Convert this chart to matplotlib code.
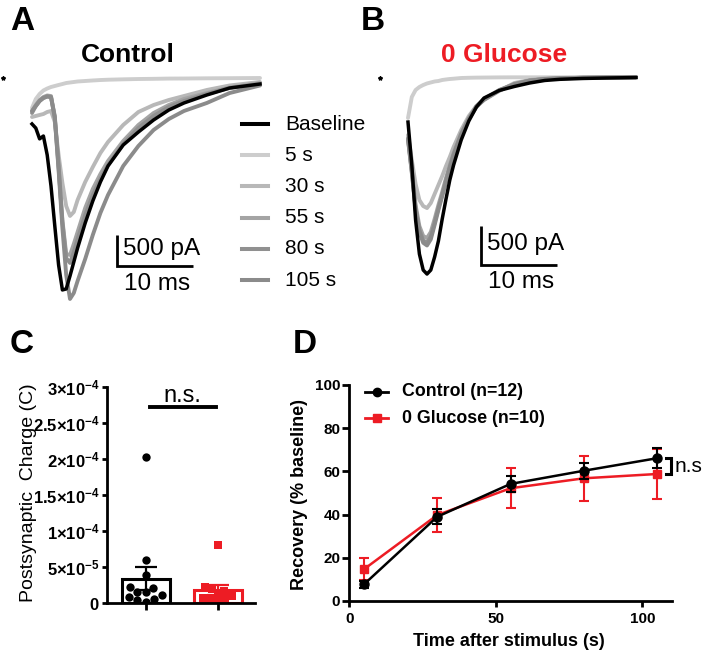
# Recovery of EPSCs after stimulation: control vs 0 glucose
import numpy as np
import matplotlib
matplotlib.use("Agg")
import matplotlib.pyplot as plt
import seaborn as sns
from matplotlib.lines import Line2D
from matplotlib.ticker import FuncFormatter

plt.rcParams['font.family'] = ['Liberation Sans', 'DejaVu Sans']
plt.rcParams['mathtext.fontset'] = 'custom'
plt.rcParams['mathtext.rm'] = 'Liberation Sans'
plt.rcParams['mathtext.bf'] = 'Liberation Sans:bold'

# ---------------- data ----------------
trace_labels = ["Baseline", "5 s", "30 s", "55 s", "80 s", "105 s"]

# sample times of the current traces (ms after trace start)
t_ms = [0, 0.5, 1, 1.5, 2, 2.5, 3, 3.5, 4, 4.5, 5, 5.5, 6, 7, 8, 9, 10,
        12, 14, 16, 18, 20, 23, 26, 30]

# panel A (control), current in pA
ctl_base = [-725, -790, -960, -915, -1214, -1703, -2334, -2949, -3343, -3327, -3122,
            -2902, -2681, -2287, -1940, -1640, -1388, -1057, -852, -662, -505, -394,
            -268, -158, -95]
ctl_5s = [-473, -331, -252, -197, -166, -142, -126, -110, -95, -79, -71, -63, -55,
          -47, -39, -32, -27, -21, -16, -13, -9, -8, -5, -3, 0]
ctl_30s = [-615, -599, -583, -568, -536, -520, -694, -1214, -1656, -2019, -2176,
           -2113, -1924, -1640, -1404, -1183, -1009, -741, -536, -426, -347, -284,
           -189, -118, -63]
ctl_55s = [-520, -426, -347, -300, -276, -284, -631, -1419, -2239, -2776, -2791,
           -2618, -2429, -2050, -1750, -1514, -1309, -994, -741, -552, -426, -331,
           -237, -150, -79]
ctl_80s = [-552, -442, -363, -315, -292, -300, -599, -1372, -2271, -2839, -2917,
           -2744, -2539, -2160, -1845, -1593, -1372, -1041, -789, -599, -457, -363,
           -252, -158, -95]
ctl_105s = [-520, -442, -363, -315, -292, -300, -631, -1451, -2366, -3107, -3485,
            -3391, -3201, -2854, -2476, -2129, -1845, -1388, -1072, -820, -647, -520,
            -394, -237, -118]

# panel B (0 glucose), current in pA
glu_base = [-572, -1130, -1845, -2286, -2494, -2546, -2494, -2325, -2117, -1832, -1572,
            -1325, -1130, -805, -559, -377, -260, -162, -110, -65, -32, -17, -6, 0, 6]
glu_5s = [-520, -247, -156, -117, -91, -71, -58, -45, -39, -26, -19, -13, -9, 0, 3,
          5, 6, 8, 9, 9, 9, 9, 9, 9, 9]
glu_30s = [-740, -1065, -1377, -1585, -1663, -1689, -1624, -1507, -1390, -1273, -1143,
           -1026, -896, -675, -494, -364, -286, -169, -65, -26, -6, 0, 6, 6, 9]
glu_55s = [-779, -1195, -1650, -1923, -2052, -2078, -2000, -1832, -1650, -1481, -1299,
           -1130, -974, -714, -520, -364, -273, -156, -78, -32, -13, -4, 3, 6, 9]
glu_80s = [-790, -1215, -1690, -1975, -2110, -2140, -2060, -1880, -1690, -1515, -1330,
           -1155, -995, -730, -530, -372, -280, -160, -80, -33, -13, -4, 3, 6, 9]
glu_105s = [-800, -1230, -1710, -2000, -2140, -2175, -2095, -1910, -1715, -1535, -1350,
            -1170, -1005, -735, -535, -375, -282, -162, -82, -34, -14, -5, 3, 6, 9]

# panel C: postsynaptic charge (C)
groups = ["Control", "0 Glucose"]
ctl_charge = [2.03e-4, 6.0e-5, 3.9e-5, 2.3e-5, 2.1e-5, 1.6e-5, 1.5e-5, 1.1e-5,
              0.9e-5, 0.6e-5, 0.4e-5, 0.2e-5]
glu_charge = [8.1e-5, 2.2e-5, 2.0e-5, 1.7e-5, 1.3e-5, 1.0e-5, 0.8e-5, 0.6e-5,
              0.4e-5, 0.3e-5]

# panel D: recovery (% baseline)
stim_time = [5, 30, 55, 80, 105]
ctl_rec = [7.7, 39.0, 54.2, 60.3, 66.1]
ctl_sem = [1.5, 3.5, 3.7, 3.8, 4.7]
glu_rec = [14.7, 39.8, 52.2, 56.8, 58.8]
glu_sem = [5.0, 8.0, 9.2, 10.3, 11.5]

# ---------------- figure ----------------
W, H = 702, 652
RED = '#ed1c24'
grays = ['#cdcdcd', '#b8b8b8', '#a4a4a4', '#909090', '#8b8b8b']

fig = plt.figure(figsize=(W / 100, H / 100), dpi=100)


def px_axes(l, t, r, b):
    return fig.add_axes([l / W, 1 - b / H, (r - l) / W, (b - t) / H])


def ftext(x, y, s, **kw):
    return fig.text(x / W, 1 - y / H, s, **kw)


ms_px = 7.6  # px per ms in both trace panels


def trace_panel(l, r, t0_px, pa_px, traces, bar_t, bar_i, stim_px):
    ax = px_axes(l, 60, r, 310)
    ax.axis('off')
    ax.set_xlim((l - t0_px) / ms_px, (r - t0_px) / ms_px)
    ax.set_ylim(-(310 - 78) / pa_px, (78 - 60) / pa_px)
    for tr, col in zip(traces[1:], grays):
        ax.plot(t_ms, tr, color=col, lw=2.8, solid_capstyle='round')
    ax.plot(t_ms, traces[0], color='black', lw=2.5)
    # stimulus mark
    ax.plot([(stim_px - t0_px) / ms_px], [0], marker='*', ms=3, color='black')
    # scale bar 500 pA / 10 ms
    ax.plot([bar_t, bar_t, bar_t + 10], [bar_i + 500, bar_i, bar_i], color='black',
            lw=2, solid_joinstyle='miter', solid_capstyle='butt')
    ax.annotate('500 pA', xy=(bar_t, bar_i + 250), xytext=(4.7, 1),
                textcoords='offset points', ha='left', va='center', fontsize=17.5)
    ax.annotate('10 ms', xy=(bar_t + 5, bar_i), xytext=(1.5, -12.5),
                textcoords='offset points', ha='center', va='center', fontsize=17.5)
    return ax


axA = trace_panel(0, 351, 32, 31.7 / 500,
                  [ctl_base, ctl_5s, ctl_30s, ctl_55s, ctl_80s, ctl_105s],
                  11.14, -2973, 3)
axB = trace_panel(351, 702, 408, 38.5 / 500,
                  [glu_base, glu_5s, glu_30s, glu_55s, glu_80s, glu_105s],
                  9.54, -2423, 380)

ftext(128.3, 61.7, 'Control', ha='center', va='baseline', fontsize=19, weight='bold')
ftext(504.3, 61.7, '0 Glucose', ha='center', va='baseline', fontsize=19,
      weight='bold', color=RED)

# legend of traces
for i, (lab, col) in enumerate(zip(trace_labels, ['black'] + grays)):
    y = 124 + 31.2 * i
    fig.add_artist(Line2D([241.7 / W, 268.3 / W], [1 - y / H] * 2, color=col, lw=2.9,
                          transform=fig.transFigure))
    ftext(285, y, lab, va='center', fontsize=15)

# panel letters
for lab, x, y in [('A', 10, 30), ('B', 361, 30), ('C', 10, 353), ('D', 293, 353)]:
    ftext(x, y, lab, va='baseline', fontsize=24, weight='bold')

# ---------------- panel C ----------------
axC = px_axes(106.7, 386.7, 255, 603.3)
charges = [ctl_charge, glu_charge]
means = [np.mean(c) for c in charges]
sems = [np.std(c, ddof=1) / np.sqrt(len(c)) for c in charges]
axC.bar([0, 1], means, width=0.67, color='white', edgecolor=['black', RED],
        linewidth=2.2, zorder=1)
sns.swarmplot(x=[groups[0]] * len(ctl_charge), y=ctl_charge, order=groups,
              color='black', marker='o', size=6, ax=axC, zorder=2)
sns.swarmplot(x=[groups[1]] * len(glu_charge), y=glu_charge, order=groups,
              color=RED, marker='s', size=5.2, ax=axC, zorder=2)
for i, col in enumerate(['black', RED]):
    axC.errorbar(i, means[i], yerr=sems[i], fmt='none', ecolor=col, elinewidth=1.6,
                 capsize=7.8, capthick=1.6, zorder=3)

axC.set_xlim(-0.548, 1.52)
axC.set_ylim(0, 3e-4)
axC.set_xticks([0, 1])
axC.set_yticks([i * 5e-5 for i in range(7)])


def sci_fmt(v, pos):
    if v == 0:
        return r'$\mathbf{0}$'
    exp = int(np.floor(np.log10(v)))
    mant = '%g' % round(v / 10 ** exp, 3)
    return r'$\mathbf{%s{\times}10^{%d}}$' % (mant, exp)


axC.yaxis.set_major_formatter(FuncFormatter(sci_fmt))
axC.set_xlabel('')
axC.set_ylabel('')
for s in ['top', 'right']:
    axC.spines[s].set_visible(False)
for s in ['left', 'bottom']:
    axC.spines[s].set_linewidth(2)
axC.tick_params(axis='y', length=3.6, width=2, pad=1.5, labelsize=12)
axC.tick_params(axis='x', length=5, width=2, labelbottom=False)
axC.plot([0.05, 0.97], [2.72e-4] * 2, color='black', lw=2.8)
axC.text(0.51, 2.79e-4, 'n.s.', ha='center', va='baseline', fontsize=17)
ftext(29, 493, 'Postsynaptic  Charge (C)', rotation=90, ha='center', va='center',
      fontsize=14)

# ---------------- panel D ----------------
axD = px_axes(349.3, 385, 671.7, 601)
axD.errorbar(stim_time, glu_rec, yerr=glu_sem, color=RED, marker='s', ms=6, lw=1.8,
             elinewidth=1.5, capsize=3.5, capthick=1.5, zorder=2)
axD.errorbar(stim_time, ctl_rec, yerr=ctl_sem, color='black', marker='o', ms=6.5,
             lw=1.8, elinewidth=1.5, capsize=3.5, capthick=1.5, zorder=3)
axD.set_xlim(0, 110)
axD.set_ylim(0, 100)
axD.set_xticks([0, 50, 100])
axD.set_yticks(range(0, 101, 20))
for s in ['top', 'right']:
    axD.spines[s].set_visible(False)
for s in ['left', 'bottom']:
    axD.spines[s].set_linewidth(2)
axD.tick_params(axis='y', length=5, width=2, pad=1.5, labelsize=11)
axD.tick_params(axis='x', length=4, width=2, pad=3.6, labelsize=11)
plt.setp(axD.get_xticklabels() + axD.get_yticklabels(), fontweight='bold')

# n.s. bracket between the last points
axD.plot([107.9, 109.6, 109.6, 107.9], [ctl_rec[-1], ctl_rec[-1], glu_rec[-1], glu_rec[-1]],
         color='black', lw=2.2, clip_on=False, solid_joinstyle='miter')
axD.text(110.9, (ctl_rec[-1] + glu_rec[-1]) / 2, 'n.s', ha='left', va='center',
         fontsize=15, clip_on=False)

for lab, col, mk, y in [('Control (n=12)', 'black', 'o', 391.7),
                        ('0 Glucose (n=10)', RED, 's', 418.3)]:
    fy = 1 - y / H
    fig.add_artist(Line2D([365 / W, 376.7 / W, 388.3 / W], [fy] * 3, color=col, lw=2,
                          marker=mk, ms=6, markevery=[1], transform=fig.transFigure))
    ftext(401.7, y, lab, va='center', fontsize=12.8, weight='bold')

ftext(509, 642, 'Time after stimulus (s)', ha='center', va='center', fontsize=13,
      weight='bold')
ftext(299, 494, 'Recovery (% baseline)', rotation=90, ha='center', va='center',
      fontsize=13, weight='bold')

fig.savefig('out.png', dpi=100)
